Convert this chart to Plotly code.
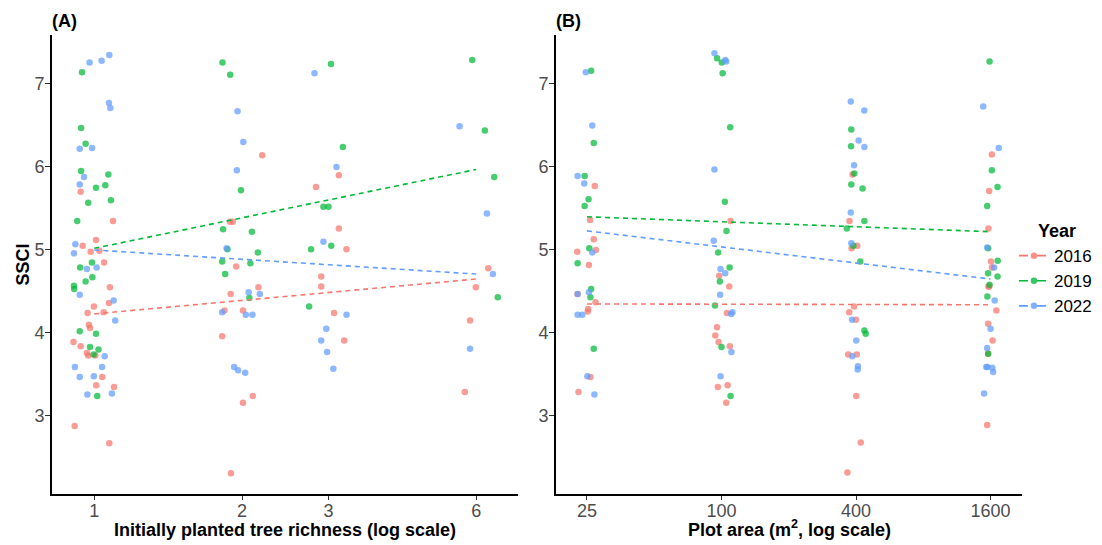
import plotly.graph_objects as go
import math

# ---------------- data ----------------
years = ["2016", "2019", "2022"]
colors = ["#F8766D", "#00BA38", "#619CFF"]

# Panel A: initially planted tree richness (jittered) vs SSCI
rich_2016 = [0.938, 1.092, 0.947, 1.008, 0.983, 1.024, 1.047, 1.076, 1.071, 0.998, 0.969, 1.045, 0.975,
             0.980, 0.907, 0.938, 0.966, 0.972, 1.005, 1.038, 1.009, 1.097, 0.912, 1.073,
             2.199, 1.890, 1.915, 1.946, 1.896, 2.160, 1.842, 2.009, 1.822, 2.104, 2.009, 1.899,
             3.150, 2.830, 3.150, 3.265, 2.900, 2.900, 3.080, 3.230,
             6.350, 5.990, 5.830, 5.690]
ssci_a_2016 = [5.70, 5.35, 5.05, 5.12, 4.98, 4.99, 4.85, 4.55, 4.36, 4.32, 4.24, 4.25, 4.10,
               4.06, 3.89, 3.84, 3.76, 3.73, 3.73, 3.47, 3.37, 3.35, 2.88, 2.67,
               6.14, 5.34, 5.34, 4.80, 4.47, 4.55, 4.27, 4.27, 3.96, 3.24, 3.16, 2.31,
               5.90, 5.76, 5.26, 5.01, 4.68, 4.56, 4.24, 3.91,
               4.78, 4.55, 4.15, 3.29]

rich_2019 = [0.944, 0.940, 0.960, 0.940, 1.008, 1.053, 1.068, 0.972, 1.081, 0.923, 0.936, 0.989,
             0.909, 0.910, 0.960, 0.991, 0.934, 1.008, 0.980, 1.020, 0.997, 1.014,
             1.825, 1.892, 1.990, 1.830, 2.095, 1.868, 1.822, 2.080, 2.154, 1.848, 2.070,
             3.035, 3.210, 2.930, 3.000, 2.765, 3.040, 2.740,
             5.890, 6.250, 6.530, 6.640]
ssci_a_2019 = [7.14, 6.47, 6.28, 5.95, 5.75, 5.78, 5.91, 5.57, 5.60, 5.35, 4.79, 4.85,
               4.57, 4.53, 4.62, 4.67, 4.02, 3.99, 3.83, 3.80, 3.74, 3.24,
               7.26, 7.11, 5.72, 5.25, 5.22, 5.01, 4.86, 4.84, 4.97, 4.71, 4.42,
               7.24, 6.24, 5.52, 5.52, 5.01, 5.05, 4.32,
               7.29, 6.44, 5.88, 4.43]

rich_2022 = [0.978, 1.035, 1.073, 1.071, 1.078, 0.934, 0.990, 0.953, 0.934, 0.915, 0.909, 0.966,
             1.011, 0.934, 1.095, 1.103, 1.050, 0.913, 1.037, 0.934, 0.998, 0.968, 1.086,
             1.958, 2.012, 1.952, 1.860, 2.063, 2.174, 1.822, 2.036, 2.100, 1.927, 1.963, 2.030,
             2.810, 3.115, 2.930, 3.265, 2.970, 2.900, 2.980, 3.070,
             5.550, 6.310, 6.490, 5.830]
ssci_a_2022 = [7.26, 7.28, 7.35, 6.77, 6.71, 6.22, 6.23, 5.88, 5.79, 5.07, 4.96, 4.77,
               4.79, 4.46, 4.39, 4.15, 3.72, 3.59, 3.59, 3.47, 3.48, 3.26, 3.27,
               6.67, 6.30, 5.96, 5.02, 4.49, 4.47, 4.25, 4.22, 4.22, 3.59, 3.55, 3.52,
               7.13, 6.00, 5.10, 4.22, 4.05, 3.91, 3.77, 3.57,
               6.49, 5.44, 4.71, 3.81]

# Panel B: plot area (m2, jittered) vs SSCI
area_2016 = [27.1, 25.8, 26.8, 27.4, 22.6, 25.5, 22.7, 27.3, 25.3, 25.2, 25.9, 22.9,
             109.8, 97.6, 108.3, 105.7, 95.5, 93.8, 97.0, 109.0, 96.3, 106.5, 105.0,
             386, 374, 405, 382, 392, 373, 400, 369, 403, 401, 420, 366,
             1622, 1578, 1566, 1608, 1624, 1566, 1578, 1700, 1561, 1634, 1561, 1546]
ssci_b_2016 = [5.77, 5.36, 5.13, 5.00, 4.98, 4.82, 4.47, 4.37, 4.29, 4.26, 3.47, 3.29,
               5.35, 4.69, 4.56, 4.24, 4.07, 3.97, 3.89, 3.84, 3.35, 3.37, 3.16,
               5.91, 5.35, 5.05, 5.02, 4.32, 4.25, 4.16, 3.74, 3.74, 3.24, 2.68, 2.32,
               6.15, 5.71, 5.26, 4.86, 4.79, 4.56, 4.56, 4.27, 4.11, 3.91, 3.75, 2.89]

area_2019 = [26.1, 26.8, 24.4, 25.4, 24.4, 25.6, 22.7, 26.1, 25.9, 26.8,
             95.5, 100.3, 101.2, 109.4, 103.5, 105.3, 96.6, 108.7, 98.3, 93.5, 100.0, 109.8,
             381, 380, 393, 381, 428, 436, 364, 389, 418, 436, 442,
             1584, 1622, 1720, 1546, 1561, 1723, 1560, 1720, 1584, 1549, 1561]
ssci_b_2019 = [7.16, 6.29, 5.89, 5.61, 5.53, 5.02, 4.84, 4.53, 4.43, 3.81,
               7.31, 7.26, 7.13, 6.48, 5.58, 5.23, 4.97, 4.79, 4.62, 4.33, 3.83, 3.24,
               6.45, 6.25, 5.92, 5.79, 5.74, 5.35, 5.26, 5.05, 4.86, 4.03, 3.99,
               7.27, 5.96, 5.76, 5.53, 5.02, 4.87, 4.72, 4.68, 4.58, 4.44, 3.75]

area_2022 = [24.7, 26.4, 22.7, 24.3, 26.4, 22.7, 25.5, 22.7, 23.8, 25.1, 27.0,
             93.0, 103.9, 105.0, 93.0, 92.3, 99.0, 103.9, 98.6, 110.5, 112.0, 110.8, 99.0,
             379, 435.7, 411, 436, 392, 379, 381, 384, 401, 385, 408, 407,
             1484, 1741, 1546, 1661, 1670, 1600, 1546, 1532, 1550, 1630, 1643, 1497]
ssci_b_2022 = [7.14, 6.50, 5.89, 5.80, 4.97, 4.47, 4.49, 4.22, 4.22, 3.48, 3.26,
               7.37, 7.29, 7.27, 5.97, 5.11, 4.77, 4.72, 4.46, 4.23, 4.25, 3.77, 3.48,
               6.79, 6.68, 6.32, 6.24, 6.02, 5.45, 5.08, 4.16, 3.91, 3.72, 3.60, 3.56,
               6.73, 6.23, 5.03, 4.79, 4.39, 4.05, 3.82, 3.59, 3.59, 3.58, 3.53, 3.27]

# fitted (linear on log scale) trend lines: values at the ends of the range
fit_a_x = [1, 6]
fit_a_2016 = [4.23, 4.65]
fit_a_2019 = [5.02, 5.97]
fit_a_2022 = [5.00, 4.71]
fit_b_x = [25, 1600]
fit_b_2016 = [4.35, 4.34]
fit_b_2019 = [5.40, 5.22]
fit_b_2022 = [5.23, 4.65]

rich_ticks = [1, 2, 3, 6]
area_ticks = [25, 100, 400, 1600]
ssci_ticks = [3, 4, 5, 6, 7]

# ---------------- figure ----------------
FONT = "Liberation Sans, Arial, Helvetica, sans-serif"
fig = go.Figure()

pts_a = [(rich_2016, ssci_a_2016), (rich_2019, ssci_a_2019), (rich_2022, ssci_a_2022)]
pts_b = [(area_2016, ssci_b_2016), (area_2019, ssci_b_2019), (area_2022, ssci_b_2022)]
fits_a = [fit_a_2016, fit_a_2019, fit_a_2022]
fits_b = [fit_b_2016, fit_b_2019, fit_b_2022]

MS = 6.5
for i, yr in enumerate(years):
    fig.add_trace(go.Scatter(x=pts_a[i][0], y=pts_a[i][1], mode="markers",
                             marker=dict(color=colors[i], size=MS, opacity=0.72, line=dict(width=0)),
                             showlegend=False, legendgroup=yr, xaxis="x", yaxis="y", hoverinfo="skip"))
    fig.add_trace(go.Scatter(x=pts_b[i][0], y=pts_b[i][1], mode="markers",
                             marker=dict(color=colors[i], size=MS, opacity=0.72, line=dict(width=0)),
                             showlegend=False, legendgroup=yr, xaxis="x2", yaxis="y2", hoverinfo="skip"))

for i, yr in enumerate(years):
    fig.add_trace(go.Scatter(x=fit_a_x, y=fits_a[i], mode="lines",
                             line=dict(color=colors[i], width=1.6, dash="5px,4px"),
                             showlegend=False, legendgroup=yr, xaxis="x", yaxis="y"))
    fig.add_trace(go.Scatter(x=fit_b_x, y=fits_b[i], mode="lines",
                             line=dict(color=colors[i], width=1.6, dash="5px,4px"),
                             showlegend=False, legendgroup=yr, xaxis="x2", yaxis="y2"))

# legend entries
for i, yr in enumerate(years):
    fig.add_trace(go.Scatter(x=[None], y=[None], mode="lines+markers", name=yr,
                             marker=dict(color=colors[i], size=MS, opacity=0.8),
                             line=dict(color=colors[i], width=1.6, dash="dash"),
                             legendgroup=yr, xaxis="x", yaxis="y"))

tickfont = dict(family=FONT, size=18, color="#4D4D4D")
titlefont = dict(family=FONT, size=18, color="black")
yrange = [2.06, 7.59]

common_x = dict(type="log", showgrid=False, zeroline=False, showline=True, linecolor="black",
                linewidth=1.6, ticks="outside", ticklen=4, tickwidth=1.2, tickcolor="#333333",
                tickfont=tickfont, automargin=False, ticklabelstandoff=-4)
common_y = dict(showgrid=False, zeroline=False, showline=True, linecolor="black",
                linewidth=1.6, ticks="outside", ticklen=5, tickwidth=1.2, tickcolor="#333333",
                tickfont=tickfont, range=yrange, tickvals=ssci_ticks, automargin=False,
                ticklabelstandoff=-3)

# the page body adds an 8px offset, so the figure is sized/placed to compensate
fig.update_layout(
    width=1094, height=537,
    paper_bgcolor="white", plot_bgcolor="white",
    margin=dict(l=44, r=80, t=27, b=51, autoexpand=False),
    font=dict(family=FONT, color="black"),
    xaxis=dict(common_x, domain=[0, 0.4804], anchor="y",
               range=[math.log10(0.82), math.log10(7.3)],
               tickvals=rich_ticks, ticktext=[str(t) for t in rich_ticks]),
    yaxis=dict(common_y, domain=[0, 1], anchor="x"),
    xaxis2=dict(common_x, domain=[0.5196, 1], anchor="y2",
                range=[1.2593, 3.345],
                tickvals=area_ticks, ticktext=[str(t) for t in area_ticks]),
    yaxis2=dict(common_y, domain=[0, 1], anchor="x2"),
    legend=dict(x=0.9917, y=0.5575, xanchor="left", yanchor="top",
                font=dict(family=FONT, size=17, color="black"),
                itemwidth=30, tracegroupgap=0, bgcolor="rgba(0,0,0,0)"),
    annotations=[
        dict(text="<b>(A)</b>", xref="paper", yref="paper", x=0.0, y=1.0, xanchor="left",
             yanchor="bottom", xshift=-2, yshift=2, showarrow=False,
             font=dict(family=FONT, size=18, color="black")),
        dict(text="<b>(B)</b>", xref="paper", yref="paper", x=0.5196, y=1.0, xanchor="left",
             yanchor="bottom", xshift=-2, yshift=2, showarrow=False,
             font=dict(family=FONT, size=18, color="black")),
        dict(text="<b>Initially planted tree richness (log scale)</b>", xref="paper", yref="paper",
             x=0.2402, y=0, xanchor="center", yanchor="bottom", yshift=-48, showarrow=False,
             font=titlefont),
        dict(text="<b>Plot area (m<sup>2</sup>, log scale)</b>", xref="paper", yref="paper",
             x=0.7598, y=0, xanchor="center", yanchor="bottom", yshift=-48, showarrow=False,
             font=titlefont),
        dict(text="<b>SSCI</b>", xref="paper", yref="paper", x=0, y=0.5, xanchor="center",
             yanchor="middle", xshift=-30, textangle=-90, showarrow=False, font=titlefont),
        dict(text="<b>Year</b>", xref="paper", yref="paper", x=1.0144, y=0.5730, xanchor="left",
             yanchor="middle", showarrow=False, font=dict(family=FONT, size=18, color="black")),
    ],
)

fig.write_html("out.html")
